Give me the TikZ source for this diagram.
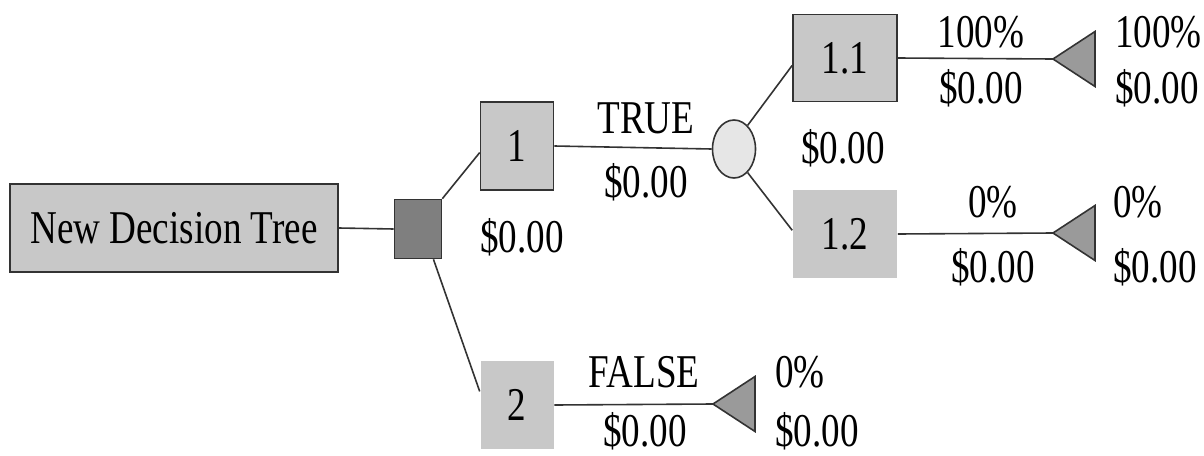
\documentclass[tikz,border=0pt]{standalone}
\usepackage{fontspec}
\setmainfont{Liberation Serif}[FakeStretch=0.79]
\definecolor{treeLine}{HTML}{333333}
\definecolor{boxGray}{HTML}{C8C8C8}
\definecolor{decGray}{HTML}{7F7F7F}
\definecolor{chanceGray}{HTML}{E6E6E6}
\definecolor{endGray}{HTML}{9A9A9A}
\usetikzlibrary{shapes.geometric, positioning}
\newcommand{\treefont}{\fontsize{47}{56}\selectfont}
\tikzset{
  branchbox/.style={rectangle, fill=boxGray, draw=treeLine, line width=1.6pt,
    inner sep=0pt, minimum width=73pt, minimum height=88pt, font=\treefont},
  openbox/.style={branchbox, draw=none},
  decbox/.style={rectangle, fill=decGray, draw=treeLine, line width=1.6pt,
    inner sep=0pt, minimum width=47pt, minimum height=59pt},
  chance/.style={ellipse, fill=chanceGray, draw=treeLine, line width=1.6pt,
    inner sep=0pt, minimum width=43pt, minimum height=58pt},
  endtri/.style={fill=endGray, draw=treeLine, line width=1.6pt, line join=miter},
  twig/.style={draw=treeLine, line width=1.6pt},
  lbl/.style={font=\treefont, inner sep=0pt, anchor=base},
  lblw/.style={lbl, anchor=base west}
}

\begin{document}
\begin{tikzpicture}[x=1pt, y=-1pt]
  \useasboundingbox (0,0) rectangle (1204,455);

  % root and decision
  \node[branchbox, minimum width=328pt] (root) at (174,228) {New Decision Tree};
  \node[decbox] (dec) at (418,229) {};

  % first level
  \node[branchbox] (n1) at (517,146) {1};
  \node[openbox] (n2) at (517,405) {2};
  \node[chance] (ch) at (734,149) {};

  % second level
  \node[branchbox, minimum width=104pt, minimum height=87pt] (n11) at (845,58) {1.1};
  \node[openbox, minimum width=104pt] (n12) at (845,234) {1.2};

  % end points
  \coordinate (t11) at (1053,59);
  \coordinate (t12) at (1053,233);
  \coordinate (t2) at (713,404);
  \foreach \t in {t11,t12,t2}
    \draw[endtri] (\t) -- ++(42,-27.5) -- ++(0,55) -- cycle;

  % connectors
  \draw[twig] (root.east) -- (dec.west);
  \draw[twig] (dec.north east) -- (n1.190);
  \draw[twig] (dec.-63) -- (n2.160);
  \draw[twig] (n1.east) -- (ch.west);
  \draw[twig] (ch.60) -- (n11.188);
  \draw[twig] (ch.-60) -- (n12.176);
  \draw[twig] (n11.east) -- (t11);
  \draw[twig] (n12.east) -- (t12);
  \draw[twig] (n2.east) -- (t2);

  % labels
  \node[lbl] (vN1) at (522,252) {\$0.00};
  \node[lbl] (lTrue) at (646,133) {TRUE};
  \node[lbl] (vTrue) at (646,197) {\$0.00};
  \node[lbl] (vCh) at (843,163) {\$0.00};
  \node[lbl] (p11) at (981,47) {100\%};
  \node[lbl] (v11) at (981,103) {\$0.00};
  \node[lblw] (p11e) at (1115,47) {100\%};
  \node[lblw] (v11e) at (1115,103) {\$0.00};
  \node[lbl] (p12) at (993,217) {0\%};
  \node[lbl] (v12) at (993,282) {\$0.00};
  \node[lblw] (p12e) at (1113,217) {0\%};
  \node[lblw] (v12e) at (1113,282) {\$0.00};
  \node[lbl] (lFalse) at (644,387) {FALSE};
  \node[lbl] (vFalse) at (645,446) {\$0.00};
  \node[lblw] (p2e) at (775,387) {0\%};
  \node[lblw] (v2e) at (775,446) {\$0.00};
\end{tikzpicture}
\end{document}
